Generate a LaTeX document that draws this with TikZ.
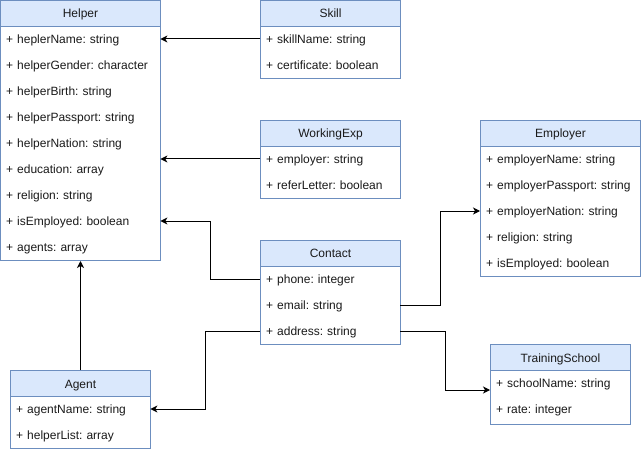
\documentclass[tikz,border=0pt]{standalone}
\usepackage{fontspec}
\setmainfont{Liberation Sans}
\usetikzlibrary{arrows.meta,calc}
\definecolor{headfill}{HTML}{DAE8FC}
\definecolor{boxline}{HTML}{6C8EBF}
\definecolor{txt}{HTML}{1A1A1A}
\frenchspacing
\tikzset{
  hdr/.style={draw=boxline, fill=headfill, line width=1pt, minimum height=26pt, inner sep=0pt, text height=9pt, text depth=0pt, anchor=north west, text=txt, font=\fontsize{12pt}{14pt}\selectfont\frenchspacing},
  bodybox/.style={draw=boxline, fill=white, line width=1pt, inner sep=0pt, anchor=north west},
  row/.style={anchor=west, inner xsep=6pt, inner ysep=0pt, minimum height=26pt, text height=9pt, text depth=0pt, align=left, text=txt, font=\fontsize{12pt}{14pt}\selectfont\frenchspacing},
  arr/.style={draw=black, line width=1pt, -{Stealth[length=7pt,width=7pt,inset=2pt]}}
}
\begin{document}
\begin{tikzpicture}[x=1pt,y=-1pt]
\useasboundingbox (0,0) rectangle (641,452);
% Helper
\node[bodybox, minimum width=160pt, minimum height=234pt] (h-body) at (0,26) {};
\node[hdr, minimum width=160pt] (h-head) at (0,0) {Helper};
\node[row, text width=148pt] (h-r1) at (0,39) {+ heplerName: string};
\node[row, text width=148pt] (h-r2) at (0,65) {+ helperGender: character};
\node[row, text width=148pt] (h-r3) at (0,91) {+ helperBirth: string};
\node[row, text width=148pt] (h-r4) at (0,117) {+ helperPassport: string};
\node[row, text width=148pt] (h-r5) at (0,143) {+ helperNation: string};
\node[row, text width=148pt] (h-r6) at (0,169) {+ education: array};
\node[row, text width=148pt] (h-r7) at (0,195) {+ religion: string};
\node[row, text width=148pt] (h-r8) at (0,221) {+ isEmployed: boolean};
\node[row, text width=148pt] (h-r9) at (0,247) {+ agents: array};
% Skill
\node[bodybox, minimum width=140pt, minimum height=52pt] (s-body) at (260,26) {};
\node[hdr, minimum width=140pt] (s-head) at (260,0) {Skill};
\node[row, text width=128pt] (s-r1) at (260,39) {+ skillName: string};
\node[row, text width=128pt] (s-r2) at (260,65) {+ certificate: boolean};
% WorkingExp
\node[bodybox, minimum width=140pt, minimum height=52pt] (w-body) at (260,146) {};
\node[hdr, minimum width=140pt] (w-head) at (260,120) {WorkingExp};
\node[row, text width=128pt] (w-r1) at (260,159) {+ employer: string};
\node[row, text width=128pt] (w-r2) at (260,185) {+ referLetter: boolean};
% Employer
\node[bodybox, minimum width=160pt, minimum height=130pt] (e-body) at (480,146) {};
\node[hdr, minimum width=160pt] (e-head) at (480,120) {Employer};
\node[row, text width=148pt] (e-r1) at (480,159) {+ employerName: string};
\node[row, text width=148pt] (e-r2) at (480,185) {+ employerPassport: string};
\node[row, text width=148pt] (e-r3) at (480,211) {+ employerNation: string};
\node[row, text width=148pt] (e-r4) at (480,237) {+ religion: string};
\node[row, text width=148pt] (e-r5) at (480,263) {+ isEmployed: boolean};
% Contact
\node[bodybox, minimum width=140pt, minimum height=78pt] (c-body) at (260,266) {};
\node[hdr, minimum width=140pt] (c-head) at (260,240) {Contact};
\node[row, text width=128pt] (c-r1) at (260,279) {+ phone: integer};
\node[row, text width=128pt] (c-r2) at (260,305) {+ email: string};
\node[row, text width=128pt] (c-r3) at (260,331) {+ address: string};
% TrainingSchool
\node[bodybox, minimum width=140pt, minimum height=54pt] (t-body) at (490,370) {};
\node[hdr, minimum width=140pt] (t-head) at (490,344) {TrainingSchool};
\node[row, text width=128pt] (t-r1) at (490,383) {+ schoolName: string};
\node[row, text width=128pt] (t-r2) at (490,409) {+ rate: integer};
% Agent
\node[bodybox, minimum width=140pt, minimum height=52pt] (a-body) at (10,396) {};
\node[hdr, minimum width=140pt] (a-head) at (10,370) {Agent};
\node[row, text width=128pt] (a-r1) at (10,409) {+ agentName: string};
\node[row, text width=128pt] (a-r2) at (10,435) {+ helperList: array};
% Connectors
\draw[arr] (s-r1.west) -- (h-r1.east);
\draw[arr] (w-r1.west) -- (h-r6.east |- w-r1.west);
\draw[arr] (c-r1.west) -- ++(-50,0) |- (h-r8.east);
\draw[arr] (c-r2.east) -- ++(40,0) |- (e-r3.west);
\draw[arr] (c-r3.east) -- ++(45,0) |- ([yshift=-7pt]t-r1.west);
\draw[arr] (c-r3.west) -- ++(-55,0) |- (a-r1.east);
\draw[arr] (a-head.north) -- (h-body.south);
\end{tikzpicture}
\end{document}
